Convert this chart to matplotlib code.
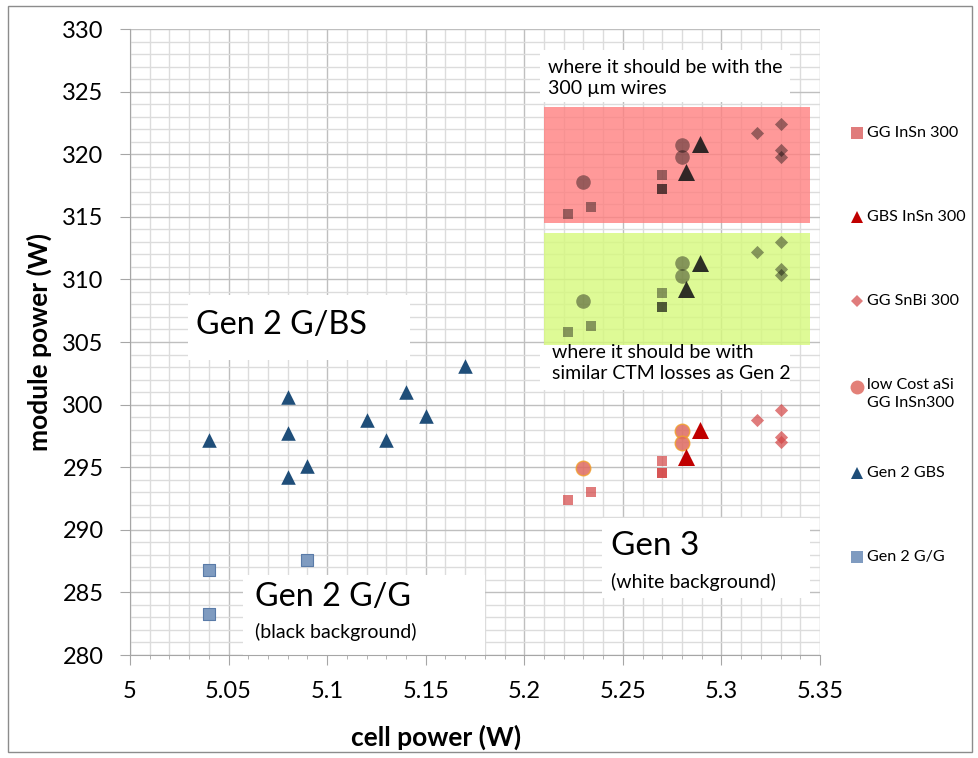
import matplotlib.pyplot as plt
from matplotlib.patches import Rectangle
from matplotlib.lines import Line2D
from matplotlib.ticker import MultipleLocator, FuncFormatter
import numpy as np

plt.rcParams['font.family'] = ['Lato', 'DejaVu Sans']

# ---- data ----
# Gen 3 measured
gg_insn_x = [5.222, 5.234, 5.270, 5.270, 5.270]
gg_insn_y = [292.4, 293.0, 295.5, 294.5, 294.5]
gbs_insn_x = [5.289, 5.282]
gbs_insn_y = [298.0, 295.8]
gg_snbi_x = [5.318, 5.330, 5.330, 5.330]
gg_snbi_y = [298.8, 299.6, 297.4, 297.0]
lowcost_x = [5.230, 5.280, 5.280]
lowcost_y = [294.9, 297.9, 296.9]

# Gen 2
gen2_gbs_x = [5.04, 5.08, 5.08, 5.08, 5.09, 5.12, 5.13, 5.14, 5.15, 5.17]
gen2_gbs_y = [297.2, 300.6, 297.7, 294.2, 295.1, 298.8, 297.2, 301.0, 299.1, 303.1]
gen2_gg_x = [5.04, 5.04, 5.09]
gen2_gg_y = [286.8, 283.3, 287.6]

# projected Gen 3 ("300 um wires" box and "similar CTM losses" box)
wires_sq_y = [315.2, 315.8, 318.3, 317.2, 317.2]
wires_tri_y = [320.8, 318.6]
wires_dia_y = [321.7, 322.4, 320.3, 319.8]
wires_circ_y = [317.8, 320.7, 319.75]
ctm_sq_y = [305.8, 306.3, 308.9, 307.8, 307.8]
ctm_tri_y = [311.3, 309.2]
ctm_dia_y = [312.2, 313.0, 310.8, 310.35]
ctm_circ_y = [308.3, 311.3, 310.3]

wires_box = (5.210, 5.345, 314.5, 323.8)
ctm_box = (5.210, 5.345, 304.8, 313.7)

legend_labels = ['GG InSn 300', 'GBS InSn 300', 'GG SnBi 300',
                 'low Cost aSi\nGG InSn300', 'Gen 2 GBS', 'Gen 2 G/G']

# ---- styles ----
c_sq = '#D44545'
c_tri = '#C00000'
c_circ = '#DE6A60'
c_blue = '#1F4E79'
c_gg = '#7F9BC0'

fig = plt.figure(figsize=(9.79, 7.58), dpi=100)
ax = fig.add_axes([130 / 979, 1 - 655 / 758, 690 / 979, 626 / 758])

ax.set_xlim(5, 5.35)
ax.set_ylim(280, 330)
ax.xaxis.set_major_locator(MultipleLocator(0.05))
ax.xaxis.set_minor_locator(MultipleLocator(0.01))
ax.yaxis.set_major_locator(MultipleLocator(5))
ax.yaxis.set_minor_locator(MultipleLocator(1))
ax.xaxis.set_major_formatter(FuncFormatter(lambda v, p: f'{v:.2f}'.rstrip('0').rstrip('.')))
ax.set_axisbelow(True)
ax.grid(which='major', color='#BFBFBF', lw=1)
ax.grid(which='minor', color='#DCDCDC', lw=1)
ax.tick_params(axis='both', which='major', labelsize=17, length=7, color='#A6A6A6', pad=12)
ax.tick_params(axis='x', which='minor', length=3, color='#A6A6A6')
ax.tick_params(axis='y', which='minor', length=0)
for s in ['top', 'right']:
    ax.spines[s].set_visible(False)
for s in ['left', 'bottom']:
    ax.spines[s].set_color('#A6A6A6')

ax.set_xlabel('cell power (W)', fontsize=19, fontweight='bold')
ax.set_ylabel('module power (W)', fontsize=19, fontweight='bold')
ax.xaxis.set_label_coords(0.443, -0.112)
ax.yaxis.set_label_coords(-0.113, 0.5)

# shaded target regions
for (x0, x1, y0, y1), col in [(wires_box, '#FF8080'), (ctm_box, '#D6F97C')]:
    ax.add_patch(Rectangle((x0, y0), x1 - x0, y1 - y0, facecolor=col,
                           edgecolor='none', alpha=0.8, zorder=1.5))

# white label boxes (axes fraction)
boxes = [(0.084, 0.471, 0.322, 0.104), (0.164, 0.0, 0.35, 0.128),
         (0.684, 0.091, 0.302, 0.128), (0.594, 0.883, 0.363, 0.083),
         (0.594, 0.423, 0.363, 0.072)]
for x, y, w, h in boxes:
    ax.add_patch(Rectangle((x, y), w, h, transform=ax.transAxes,
                           facecolor='white', edgecolor='none', zorder=2))

# Gen 3 measured
ax.scatter(gg_insn_x, gg_insn_y, marker='s', s=52, color=c_sq, alpha=0.7, lw=0, zorder=4)
ax.scatter(gg_snbi_x, gg_snbi_y, marker='D', s=45, color=c_sq, alpha=0.7, lw=0, zorder=4)
ax.scatter(lowcost_x, lowcost_y, marker='o', s=110, facecolor=c_circ, edgecolor='#F0A030',
           alpha=0.85, lw=1, zorder=4)
ax.scatter(gbs_insn_x, gbs_insn_y, marker='^', s=150, color=c_tri, lw=0, zorder=4)

# projections in boxes
for sq, tri, dia, circ in [(wires_sq_y, wires_tri_y, wires_dia_y, wires_circ_y),
                           (ctm_sq_y, ctm_tri_y, ctm_dia_y, ctm_circ_y)]:
    ax.scatter(gg_insn_x, sq, marker='s', s=52, color='black', alpha=0.4, lw=0, zorder=4)
    ax.scatter(gg_snbi_x, dia, marker='D', s=45, color='black', alpha=0.4, lw=0, zorder=4)
    ax.scatter(lowcost_x, circ, marker='o', s=110, color='black', alpha=0.4, lw=0, zorder=4)
    ax.scatter(gbs_insn_x, tri, marker='^', s=150, color='#1A1A1A', alpha=0.9, lw=0, zorder=4)

# Gen 2
ax.scatter(gen2_gbs_x, gen2_gbs_y, marker='^', s=110, color=c_blue, lw=0, zorder=4)
ax.scatter(gen2_gg_x, gen2_gg_y, marker='s', s=70, facecolor=c_gg, edgecolor='#5A7BA8',
           lw=0.8, zorder=4)

# annotations
tkw = dict(transform=ax.transAxes, va='center', ha='left', zorder=5, color='black')
ax.text(0.0957, 0.527, 'Gen 2 G/BS', fontsize=23.3, **tkw)
ax.text(0.181, 0.0927, 'Gen 2 G/G', fontsize=23.3, **tkw)
ax.text(0.181, 0.0367, '(black background)', fontsize=14, **tkw)
ax.text(0.697, 0.174, 'Gen 3', fontsize=24, **tkw)
ax.text(0.697, 0.117, '(white background)', fontsize=14, **tkw)
ax.text(0.606, 0.922, 'where it should be with the\n300 \u00b5m wires', fontsize=14,
        linespacing=1.3, **tkw)
ax.text(0.612, 0.466, 'where it should be with\nsimilar CTM losses as Gen 2', fontsize=14,
        linespacing=1.3, **tkw)

# legend on the right
leg_y = [133, 217, 301, 387, 473, 557]
leg_style = [dict(marker='s', ms=8, color=c_sq, alpha=0.7),
             dict(marker='^', ms=9, color=c_tri),
             dict(marker='D', ms=6, color=c_sq, alpha=0.7),
             dict(marker='o', ms=10, color=c_circ, alpha=0.85),
             dict(marker='^', ms=9, color=c_blue),
             dict(marker='s', ms=8, color=c_gg)]
for lab, py, st in zip(legend_labels, leg_y, leg_style):
    fy = 1 - py / 758
    fig.add_artist(Line2D([857 / 979], [fy], transform=fig.transFigure, ls='none',
                          markeredgewidth=0, **st))
    fig.text(867 / 979, fy + (0.012 if '\n' in lab else 0), lab, fontsize=11.6,
             va='top' if '\n' in lab else 'center', ha='left', linespacing=1.4)

# chart border
fig.add_artist(Rectangle((8 / 979, 6 / 758), 964 / 979, 746 / 758, transform=fig.transFigure,
                         fill=False, edgecolor='#8C8C8C', lw=1))

fig.savefig('out.png', dpi=100)
